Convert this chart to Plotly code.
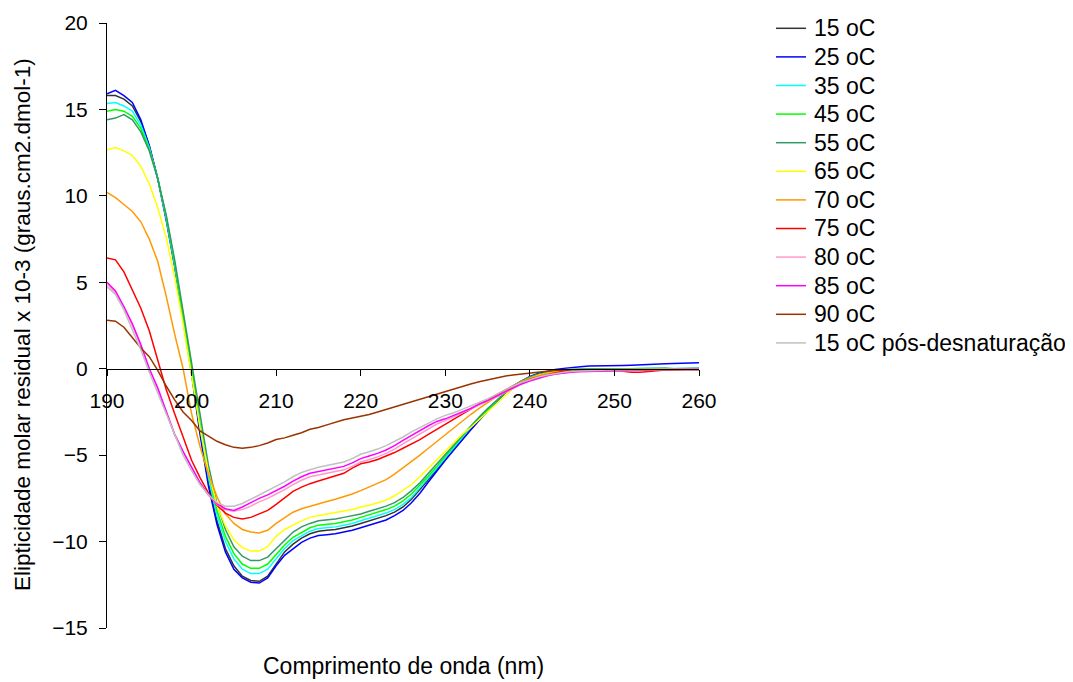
import plotly.graph_objects as go

wavelength = list(range(190, 261))

s15 = [15.8, 15.8, 15.6, 15.2, 14.3, 12.9, 11.0, 8.7, 6.0, 2.9,
       -0.2, -3.6, -6.6, -8.8, -10.4, -11.4, -12.0, -12.25, -12.3, -12.0,
       -11.3, -10.6, -10.15, -9.8, -9.55, -9.4, -9.35, -9.3, -9.2, -9.1,
       -8.95, -8.8, -8.65, -8.5, -8.3, -8.0, -7.55, -7.0, -6.45, -5.85,
       -5.25, -4.65, -4.05, -3.5, -2.95, -2.45, -1.95, -1.45, -1.05, -0.75,
       -0.52, -0.36, -0.24, -0.15, -0.08, -0.05, -0.05, -0.04, -0.03, -0.02,
       0.0, 0.0, -0.02, 0.0, 0.0, 0.02, 0.02, 0.0, 0.0, 0.0, 0.02]

s25 = [15.9, 16.1, 15.8, 15.4, 14.4, 12.9, 11.0, 8.6, 5.9, 2.8,
       -0.3, -3.8, -6.8, -9.0, -10.6, -11.6, -12.1, -12.35, -12.4, -12.1,
       -11.4, -10.8, -10.4, -10.05, -9.8, -9.65, -9.6, -9.55, -9.45, -9.35,
       -9.2, -9.05, -8.9, -8.75, -8.5, -8.2, -7.75, -7.2, -6.55, -5.9,
       -5.3, -4.7, -4.1, -3.55, -3.0, -2.45, -1.9, -1.4, -1.0, -0.7,
       -0.45, -0.28, -0.15, -0.05, 0.02, 0.08, 0.12, 0.15, 0.17, 0.18,
       0.2, 0.19, 0.2, 0.23, 0.24, 0.26, 0.28, 0.3, 0.32, 0.33, 0.35]

s35 = [15.35, 15.4, 15.2, 14.9, 14.1, 12.8, 11.0, 8.7, 6.0, 3.0,
       -0.1, -3.4, -6.3, -8.5, -10.0, -11.0, -11.6, -11.85, -11.85, -11.6,
       -11.0, -10.4, -9.95, -9.65, -9.4, -9.25, -9.2, -9.15, -9.05, -8.95,
       -8.8, -8.65, -8.5, -8.35, -8.15, -7.85, -7.45, -6.9, -6.35, -5.75,
       -5.15, -4.55, -3.95, -3.4, -2.9, -2.4, -1.9, -1.42, -1.02, -0.72,
       -0.5, -0.34, -0.22, -0.13, -0.07, -0.04, -0.04, -0.03, -0.02, -0.02,
       0.0, -0.01, -0.02, 0.0, 0.01, 0.02, 0.01, 0.0, 0.0, 0.01, 0.02]

s45 = [14.9, 15.0, 14.9, 14.6, 13.9, 12.7, 11.0, 8.8, 6.1, 3.1,
       0.0, -3.2, -6.0, -8.2, -9.7, -10.7, -11.3, -11.55, -11.55, -11.3,
       -10.75, -10.2, -9.75, -9.45, -9.2, -9.05, -9.0, -8.95, -8.85, -8.75,
       -8.6, -8.45, -8.3, -8.15, -7.95, -7.65, -7.25, -6.75, -6.2, -5.65,
       -5.05, -4.5, -3.9, -3.35, -2.85, -2.35, -1.85, -1.4, -1.0, -0.72,
       -0.5, -0.34, -0.23, -0.14, -0.08, -0.05, -0.05, -0.05, -0.04, -0.03,
       -0.02, -0.02, -0.03, -0.02, 0.0, 0.0, 0.0, -0.01, 0.0, 0.0, 0.0]

s55 = [14.4, 14.5, 14.7, 14.4, 13.7, 12.6, 11.0, 8.9, 6.3, 3.3,
       0.3, -2.8, -5.6, -7.8, -9.3, -10.3, -10.85, -11.1, -11.1, -10.9,
       -10.4, -9.9, -9.45, -9.15, -8.95, -8.8, -8.75, -8.7, -8.6, -8.5,
       -8.4, -8.25, -8.1, -7.95, -7.75, -7.45, -7.05, -6.6, -6.05, -5.5,
       -4.95, -4.4, -3.85, -3.3, -2.8, -2.3, -1.85, -1.4, -1.0, -0.7,
       -0.48, -0.33, -0.22, -0.14, -0.08, -0.06, -0.05, -0.05, -0.05, -0.04,
       -0.03, -0.03, -0.04, -0.03, -0.02, -0.01, -0.02, -0.03, -0.03, -0.04, -0.05]

s65 = [12.65, 12.8, 12.6, 12.35, 11.7, 10.7, 9.3, 7.6, 5.3, 2.6,
       -0.4, -3.4, -6.0, -7.9, -9.1, -9.9, -10.35, -10.55, -10.55, -10.3,
       -9.7, -9.3, -9.05, -8.8, -8.6, -8.48, -8.4, -8.32, -8.25, -8.15,
       -8.0, -7.9, -7.75, -7.6, -7.35, -7.05, -6.7, -6.25, -5.75, -5.3,
       -4.75, -4.25, -3.8, -3.4, -2.95, -2.5, -2.05, -1.6, -1.15, -0.8,
       -0.55, -0.38, -0.26, -0.16, -0.1, -0.07, -0.06, -0.06, -0.05, -0.05,
       -0.04, -0.04, -0.05, -0.04, -0.03, -0.03, -0.02, -0.02, -0.02, -0.01, -0.01]

s70 = [10.2, 9.9, 9.5, 9.1, 8.5, 7.5, 6.2, 4.2, 2.0, 0.0,
       -2.6, -4.5, -6.1, -7.4, -8.4, -8.95, -9.3, -9.45, -9.5, -9.35,
       -8.95, -8.6, -8.3, -8.1, -7.95, -7.82, -7.68, -7.55, -7.42, -7.25,
       -7.05, -6.85, -6.65, -6.42, -6.1, -5.75, -5.38, -5.0, -4.6, -4.2,
       -3.8, -3.4, -3.0, -2.65, -2.3, -1.95, -1.6, -1.3, -1.0, -0.75,
       -0.55, -0.4, -0.28, -0.2, -0.14, -0.1, -0.08, -0.07, -0.07, -0.06,
       -0.06, -0.07, -0.08, -0.06, -0.05, -0.04, -0.04, -0.03, -0.03, -0.02, -0.02]

s75 = [6.4, 6.3, 5.6, 4.5, 3.5, 2.2, 0.5, -1.2, -2.6, -4.0,
       -5.3, -6.3, -7.2, -7.9, -8.35, -8.6, -8.7, -8.6, -8.4, -8.2,
       -7.85, -7.45, -7.1, -6.85, -6.65, -6.5, -6.35, -6.2, -6.05, -5.75,
       -5.5, -5.4, -5.25, -5.05, -4.85, -4.6, -4.35, -4.1, -3.8, -3.5,
       -3.2, -2.9, -2.6, -2.3, -2.05, -1.8, -1.5, -1.25, -1.0, -0.8,
       -0.62, -0.48, -0.35, -0.25, -0.15, -0.1, -0.08, -0.08, -0.08, -0.08,
       -0.1, -0.15, -0.2, -0.2, -0.15, -0.1, -0.08, -0.05, -0.05, -0.03, -0.02]

s80 = [4.9, 4.4, 3.5, 2.5, 1.3, 0.0, -1.2, -2.5, -3.8, -4.8,
       -5.7, -6.6, -7.3, -7.85, -8.15, -8.25, -8.15, -7.95, -7.7, -7.5,
       -7.25, -7.0, -6.7, -6.45, -6.25, -6.15, -6.05, -5.95, -5.85, -5.65,
       -5.4, -5.25, -5.1, -4.9, -4.65, -4.35, -4.05, -3.75, -3.5, -3.2,
       -3.0, -2.78, -2.56, -2.35, -2.1, -1.9, -1.65, -1.4, -1.13, -0.9,
       -0.72, -0.55, -0.42, -0.32, -0.25, -0.2, -0.18, -0.17, -0.16, -0.14,
       -0.12, -0.1, -0.1, -0.08, -0.07, -0.06, -0.06, -0.05, -0.04, -0.04, -0.03]

s85 = [5.0, 4.5, 3.6, 2.6, 1.4, 0.0, -1.1, -2.4, -3.8, -4.8,
       -5.7, -6.6, -7.3, -7.8, -8.1, -8.2, -8.0, -7.75, -7.5, -7.3,
       -7.05, -6.8, -6.5, -6.25, -6.05, -5.95, -5.85, -5.75, -5.65, -5.45,
       -5.2, -5.05, -4.9, -4.7, -4.45, -4.15, -3.85, -3.55, -3.3, -3.05,
       -2.9, -2.7, -2.5, -2.3, -2.05, -1.85, -1.6, -1.35, -1.1, -0.88,
       -0.7, -0.54, -0.41, -0.31, -0.24, -0.19, -0.16, -0.15, -0.15, -0.12,
       -0.1, -0.08, -0.08, -0.06, -0.05, -0.05, -0.05, -0.04, -0.03, -0.03, -0.02]

s90 = [2.8, 2.75, 2.4, 1.8, 1.2, 0.7, -0.1, -1.0, -1.8, -2.5,
       -3.0, -3.6, -3.9, -4.2, -4.4, -4.55, -4.6, -4.55, -4.45, -4.3,
       -4.1, -4.0, -3.85, -3.7, -3.5, -3.4, -3.25, -3.1, -2.95, -2.85,
       -2.75, -2.65, -2.5, -2.35, -2.2, -2.05, -1.9, -1.75, -1.6, -1.45,
       -1.3, -1.15, -1.0, -0.88, -0.75, -0.63, -0.52, -0.43, -0.36, -0.3,
       -0.24, -0.19, -0.15, -0.11, -0.08, -0.06, -0.05, -0.04, -0.04, -0.03,
       -0.03, -0.03, -0.04, -0.04, -0.05, -0.05, -0.05, -0.06, -0.06, -0.06, -0.06]

s15_pos = [4.75, 4.3, 3.4, 2.3, 1.1, -0.2, -1.4, -2.7, -3.9, -5.0,
           -5.9, -6.7, -7.3, -7.75, -7.95, -7.95, -7.8, -7.55, -7.3, -7.05,
           -6.8, -6.55, -6.25, -6.0, -5.85, -5.7, -5.6, -5.5, -5.4, -5.2,
           -4.95, -4.8, -4.65, -4.45, -4.2, -3.95, -3.65, -3.4, -3.15, -2.9,
           -2.7, -2.55, -2.35, -2.15, -1.95, -1.75, -1.5, -1.25, -1.0, -0.8,
           -0.62, -0.48, -0.36, -0.27, -0.2, -0.15, -0.12, -0.1, -0.1, -0.08,
           -0.07, -0.06, -0.06, -0.05, -0.05, -0.04, -0.04, -0.04, -0.03, -0.03, -0.03]

series_names = ["15 oC", "25 oC", "35 oC", "45 oC", "55 oC", "65 oC", "70 oC",
                "75 oC", "80 oC", "85 oC", "90 oC", "15 oC pós-desnaturação"]
series_values = [s15, s25, s35, s45, s55, s65, s70, s75, s80, s85, s90, s15_pos]
series_colors = ["#333333", "#0000FF", "#00FFFF", "#00FF00", "#339966", "#FFFF00",
                 "#FF9900", "#FF0000", "#FF99CC", "#FF00FF", "#993300", "#C0C0C0"]

x_ticks = [190, 200, 210, 220, 230, 240, 250, 260]
y_ticks = [-15, -10, -5, 0, 5, 10, 15, 20]

FONT = "Liberation Sans, Arial, sans-serif"
# the page body adds an 8 px offset, so the figure is 8 px smaller
W, H = 1065, 674
L, R, T, B = 99, 374, 15, 54
plot_w = W - L - R
plot_h = H - T - B


def px_to_paper_x(px):
    return (px - L) / plot_w


def px_to_paper_y(py):
    return (T + plot_h - py) / plot_h


fig = go.Figure()
for name, vals, col in zip(series_names, series_values, series_colors):
    fig.add_trace(go.Scatter(x=wavelength, y=vals, mode="lines", name=name,
                             line=dict(color=col, width=1.5), showlegend=False))

y_min, y_max = -15, 20
fig.update_layout(
    width=W, height=H,
    margin=dict(l=L, r=R, t=T, b=B, pad=0, autoexpand=False),
    paper_bgcolor="white", plot_bgcolor="white",
    font=dict(family=FONT, size=21, color="black"),
    showlegend=False,
    xaxis=dict(range=[190, 260], tickvals=x_ticks, ticks="outside", ticklen=6,
               tickcolor="black", showline=True, linecolor="black", linewidth=1,
               showgrid=False, zeroline=False, anchor="free", automargin=False,
               position=(0 - y_min) / (y_max - y_min), ticklabelstandoff=7,
               tickfont=dict(size=21, family=FONT)),
    yaxis=dict(range=[y_min, y_max], tickvals=y_ticks, ticks="outside", ticklen=7,
               tickcolor="black", showline=True, linecolor="black", linewidth=1,
               showgrid=False, zeroline=False, ticklabelstandoff=7, automargin=False,
               tickfont=dict(size=21, family=FONT)),
)

# legend drawn as line samples + text
leg_x0, leg_x1, leg_tx = 768, 798, 804
leg_y0, leg_dy = 20.3, 28.6
for i, (name, col) in enumerate(zip(series_names, series_colors)):
    yy = px_to_paper_y(leg_y0 + leg_dy * i)
    fig.add_shape(type="line", xref="paper", yref="paper",
                  x0=px_to_paper_x(leg_x0), x1=px_to_paper_x(leg_x1), y0=yy, y1=yy,
                  line=dict(color=col, width=1.5))
    fig.add_annotation(text=name, xref="paper", yref="paper",
                       x=px_to_paper_x(leg_tx), y=yy, xanchor="left", yanchor="middle",
                       showarrow=False, font=dict(size=23, family=FONT))

fig.add_annotation(text="Comprimento de onda (nm)", xref="paper", yref="paper",
                   x=0.5, y=px_to_paper_y(658), xanchor="center", yanchor="middle",
                   showarrow=False, font=dict(size=23, family=FONT))
fig.add_annotation(text="Elipticidade molar residual x 10-3 (graus.cm2.dmol-1)",
                   xref="paper", yref="paper", x=px_to_paper_x(14),
                   y=px_to_paper_y(317), xanchor="center", yanchor="middle",
                   textangle=-90, showarrow=False, font=dict(size=22.5, family=FONT))

fig.write_html("out.html")
